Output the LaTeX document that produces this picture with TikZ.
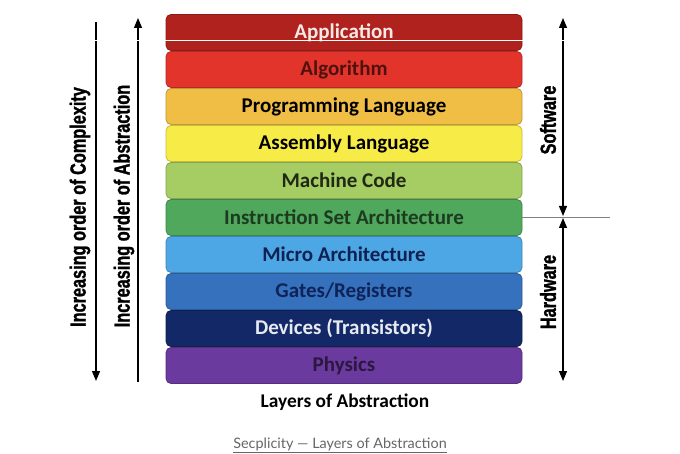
\documentclass[tikz,border=0pt]{standalone}
\usepackage{fontspec}
\setmainfont{Carlito}
\newfontfamily\narrowfont[FakeStretch=0.74, FakeBold=1.2]{Liberation Sans Bold}
\newfontfamily\captionfont{Lato}
\usetikzlibrary{positioning, arrows.meta}
\definecolor{appfill}{HTML}{B0221D}
\definecolor{algfill}{HTML}{E2342A}
\definecolor{progfill}{HTML}{F0BE45}
\definecolor{asmfill}{HTML}{F7EC47}
\definecolor{machfill}{HTML}{A6CD64}
\definecolor{isafill}{HTML}{4FA85B}
\definecolor{microfill}{HTML}{4DA7E4}
\definecolor{gatefill}{HTML}{3671BE}
\definecolor{devfill}{HTML}{132967}
\definecolor{physfill}{HTML}{6B3A9F}
\tikzset{
	layer/.style={draw, line width=0.8pt, rounded corners=5pt, minimum width=356pt, minimum height=36pt, font=\bfseries\fontsize{21}{23}\selectfont}
}
\tikzset{
	sidetext/.style={rotate=90, font=\narrowfont\fontsize{22}{24}\selectfont}
}

\begin{document}
\begin{tikzpicture}[x=1pt, y=-1pt, >={Stealth[length=10pt, width=8pt, inset=0pt]}]
      \useasboundingbox[fill=white] (0,0) rectangle (680,454);
      \node[layer, fill=appfill, draw=appfill!80!black, text=white!90!appfill] (app) at (344,32.5) {Application};
      \node[layer, fill=algfill, draw=algfill!80!black, text=algfill!35!black] (alg) at (344,69.5) {Algorithm};
      \node[layer, fill=progfill, draw=progfill!80!black, text=black] (prog) at (344,106.5) {Programming Language};
      \node[layer, fill=asmfill, draw=asmfill!80!black, text=black] (asm) at (344,143.5) {Assembly Language};
      \node[layer, fill=machfill, draw=machfill!80!black, text=machfill!20!black] (mach) at (344,180.5) {Machine Code};
      \node[layer, fill=isafill, draw=isafill!80!black, text=isafill!35!black] (isa) at (344,217.5) {Instruction Set Architecture};
      \node[layer, fill=microfill, draw=microfill!80!black, text=devfill!80!black] (micro) at (344,254.5) {Micro Architecture};
      \node[layer, fill=gatefill, draw=gatefill!80!black, text=devfill!85!black] (gate) at (344,291.5) {Gates/Registers};
      \node[layer, fill=devfill, draw=devfill!80!black, text=white!90!devfill] (dev) at (344,328.5) {Devices (Transistors)};
      \node[layer, fill=physfill, draw=physfill!80!black, text=physfill!40!black] (phys) at (344,365.5) {Physics};
      % left arrows
      \coordinate (cxtop) at (96,22);
      \coordinate (cxbot) at (96,381);
      \coordinate (abbot) at (138,382);
      \coordinate (abtop) at (138,18);
      \draw[line width=1.2pt, ->] (cxtop) -- (cxbot);
      \draw[line width=1.2pt, ->] (abbot) -- (abtop);
      \node[sidetext] (cxtext) at (80,207) {Increasing order of Complexity};
      \node[sidetext] (abtext) at (124,206) {Increasing order of Abstraction};
      % right arrows
      \coordinate (swtop) at (563,18);
      \coordinate (swbot) at (563,216);
      \coordinate (hwtop) at (563,218);
      \coordinate (hwbot) at (563,381);
      \coordinate (split) at (610,217.5);
      \draw[gray, line width=1.2pt] (isa.east) -- (split);
      \draw[line width=1.2pt, <->] (swtop) -- (swbot);
      \draw[line width=1.2pt, <->] (hwtop) -- (hwbot);
      \node[sidetext] (swtext) at (548,120) {Software};
      \node[sidetext] (hwtext) at (548,292) {Hardware};
      % white line over the top layer
      \coordinate (wleft) at (95,40);
      \coordinate (wright) at (564,40);
      \draw[white, thick] (wleft) -- (wright);
      \node[font=\bfseries\fontsize{19.4}{21}\selectfont] (title) at (345,402) {Layers of Abstraction};
      \node[font=\captionfont\fontsize{14.4}{16}\selectfont, text=black!60] (caption) at (340,445) {\underline{Secplicity — Layers of Abstraction}};
    \end{tikzpicture}
\end{document}
